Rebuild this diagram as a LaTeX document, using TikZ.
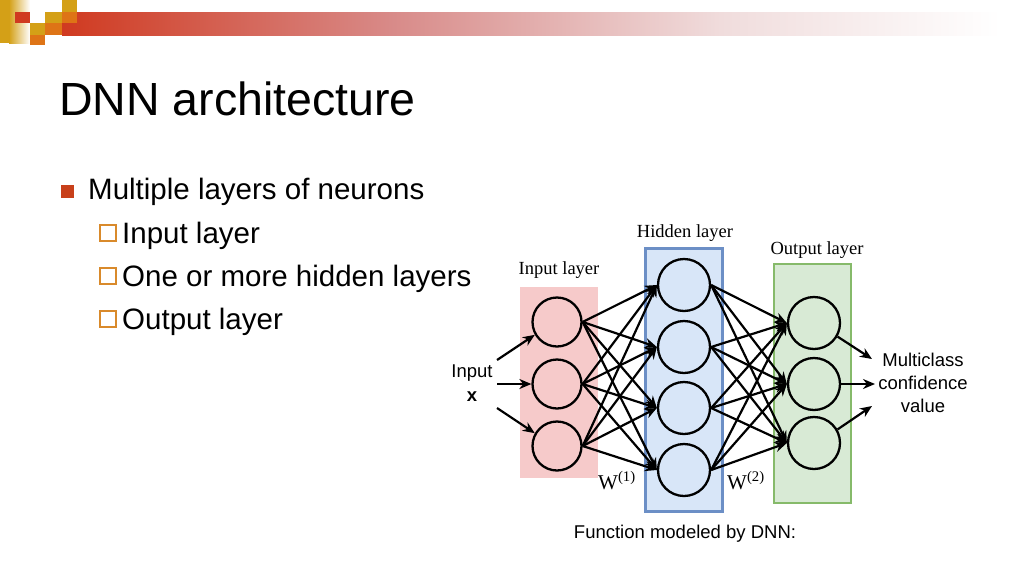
\documentclass[tikz,border=0pt]{standalone}
\usepackage{fontspec}
\setmainfont{Liberation Sans}
\newfontfamily\serifft{Liberation Serif}
\usetikzlibrary{arrows.meta}
\definecolor{hgold}{HTML}{D4A017}
\definecolor{hred}{HTML}{D03A20}
\definecolor{hmid}{HTML}{D88A88}
\definecolor{hlight}{HTML}{F0DCDC}
\definecolor{horange}{HTML}{DE7416}
\definecolor{bulred}{HTML}{C8401A}
\definecolor{bulorange}{HTML}{D98A2B}
\definecolor{pinkfill}{HTML}{F6CACA}
\definecolor{bluefill}{HTML}{D8E6F8}
\definecolor{blueline}{HTML}{6C8FC6}
\definecolor{greenfill}{HTML}{D8EAD5}
\definecolor{greenline}{HTML}{86BA6A}
\tikzset{
  neuron/.style={circle, draw=black, line width=2.3pt, inner sep=0pt},
  conn/.style={line width=2.2pt, -{Stealth[length=12pt,width=10pt]}},
  sans19/.style={font=\fontsize{18.5}{23}\selectfont, align=center, inner sep=0pt},
  serif19/.style={font=\serifft\fontsize{18.5}{22}\selectfont, inner sep=0pt},
  bodytext/.style={font=\fontsize{29.5}{34}\selectfont, anchor=base west, inner sep=0pt},
}
\begin{document}
\begin{tikzpicture}[x=1pt,y=-1pt]
\useasboundingbox (0,0) rectangle (1024,576);
\fill[white] (0,0) rectangle (1024,576);
% header decoration
\fill[hgold] (0,0) rectangle (9,43);
\shade[left color=hgold, right color=white] (9,0) rectangle (30,43);
\shade[left color=hred, right color=hmid] (62,12) rectangle (390.5,35);
\shade[left color=hmid, right color=hlight] (390,12) rectangle (720.5,35);
\shade[left color=hlight, right color=white] (720,12) rectangle (1000,35);
\fill[hred] (15,12) rectangle (30,23);
\fill[hgold] (30,23) rectangle (45,35);
\fill[horange] (30,35) rectangle (45,45);
\fill[hgold] (45,12) rectangle (62,23);
\fill[horange] (45,23) rectangle (62,35);
\fill[hgold] (62,0) rectangle (77,12);
\fill[horange] (62,12) rectangle (77,23);
% title
\node[font=\fontsize{46.5}{50}\selectfont, anchor=base west, inner sep=0pt] (title) at (59,115) {DNN architecture};
% bullets
\fill[bulred] (61,185) rectangle (74,198);
\node[bodytext] (b1) at (88,199) {Multiple layers of neurons};
\draw[bulorange, line width=1.2pt] (100,225) rectangle (116,241);
\node[bodytext] (b2) at (122,243) {Input layer};
\draw[bulorange, line width=1.2pt] (100,268) rectangle (116,284);
\node[bodytext] (b3) at (122,286) {One or more hidden layers};
\draw[bulorange, line width=1.2pt] (100,311) rectangle (116,327);
\node[bodytext] (b4) at (122,329) {Output layer};
% layer boxes
\fill[pinkfill] (520,287) rectangle (598,478);
\draw[blueline, fill=bluefill, line width=3pt] (645,248) rectangle (722,511);
\draw[greenline, fill=greenfill, line width=2.5pt] (774,264) rectangle (851,503);
% labels
\node[serif19] (lin) at (559,270) {Input layer};
\node[serif19] (lhid) at (685,233) {Hidden layer};
\node[serif19] (lout) at (817,250) {Output layer};
% neurons
\foreach \i/\y in {1/322,2/384,3/446} \node[neuron, minimum size=49pt] (i\i) at (557,\y) {};
\foreach \i/\y in {1/285,2/347,3/408,4/470} \node[neuron, minimum size=52pt] (h\i) at (684,\y) {};
\foreach \i/\y in {1/323,2/384,3/443} \node[neuron, minimum size=52pt] (o\i) at (814,\y) {};
% connections
\foreach \a in {1,2,3} \foreach \b in {1,2,3,4} \draw[conn] (i\a.east) -- (h\b.west);
\foreach \a in {1,2,3,4} \foreach \b in {1,2,3} \draw[conn] (h\a.east) -- (o\b.west);
% input
\node[sans19] (inp) at (472,383) {Input\\[1pt]\textbf{x}};
\coordinate (ia1) at (497,360);
\coordinate (ia2) at (497,384);
\coordinate (ia3) at (497,408);
\draw[conn] (ia1) -- (i1.210);
\draw[conn] (ia2) -- (i2.west);
\draw[conn] (ia3) -- (i3.150);
% output
\node[sans19] (outl) at (923,383) {Multiclass\\confidence\\value};
\coordinate (oa1) at (872,359);
\coordinate (oa2) at (875,384);
\coordinate (oa3) at (872,406);
\draw[conn] (o1.-30) -- (oa1);
\draw[conn] (o2.east) -- (oa2);
\draw[conn] (o3.30) -- (oa3);
% weights
\node[serif19, anchor=base west, font=\serifft\fontsize{21}{24}\selectfont] (w1) at (598,489) {W\textsuperscript{(1)}};
\node[serif19, anchor=base west, font=\serifft\fontsize{21}{24}\selectfont] (w2) at (727,489) {W\textsuperscript{(2)}};
% caption
\node[sans19, anchor=base] (cap) at (685,538) {Function modeled by DNN:};
\end{tikzpicture}
\end{document}
